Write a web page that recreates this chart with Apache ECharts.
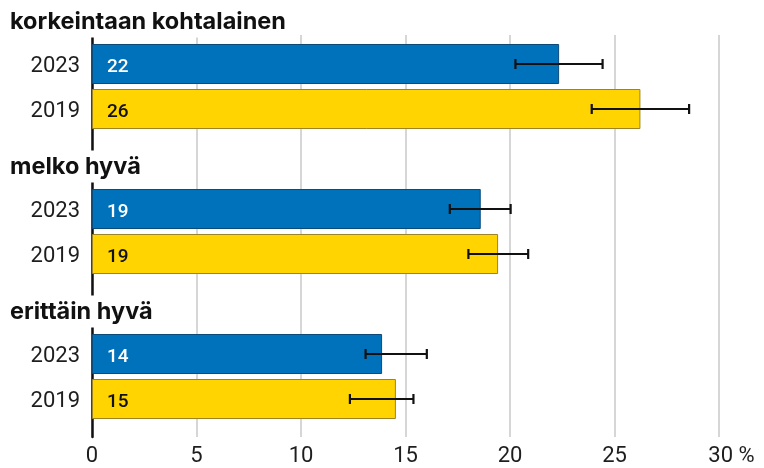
<!DOCTYPE html>
<html>
<head>
<meta charset="utf-8">
<script src="https://cdn.jsdelivr.net/npm/echarts@6/dist/echarts.min.js"></script>
<style>
html,body{margin:0;padding:0;background:#fff;}
#chart{width:764px;height:468px;}
</style>
</head>
<body>
<div id="chart"></div>
<script>
// ---- data ----
const categories = ['korkeintaan kohtalainen', 'melko hyvä', 'erittäin hyvä'];
const years = ['2023', '2019'];
const values2023 = [22.35, 18.6, 13.88];
const values2019 = [26.24, 19.43, 14.54];
const labels2023 = [22, 19, 14];
const labels2019 = [26, 19, 15];
const low2023 = [20.26, 17.12, 13.09];
const high2023 = [24.43, 20.03, 16.02];
const low2019 = [23.91, 18.01, 12.34];
const high2019 = [28.57, 20.87, 15.38];
const xMin = 0, xMax = 30, xStep = 5;
const unitLabel = '%';

// ---- style constants ----
const FONT = 'Roboto';
const HEAD_FONT = 'Inter';
const BAR_W = 40;
const BAR_GAP = 0.125;
const BLUE = '#0071bb', BLUE_BORDER = '#0c4a7a';
const YELLOW = '#ffd400', YELLOW_BORDER = '#9c8426';

const errData = [];
categories.forEach(function (c, i) {
  errData.push([i, low2023[i], high2023[i], -1]);
  errData.push([i, low2019[i], high2019[i], 1]);
});

function yearLabelSeries(stack, year) {
  return {
    type: 'bar', stack: stack, xAxisIndex: 0, yAxisIndex: 0,
    data: categories.map(function () { return 0; }),
    barWidth: BAR_W, barGap: (BAR_GAP * 100) + '%',
    silent: true,
    itemStyle: { color: 'rgba(0,0,0,0)', borderWidth: 0 },
    label: {
      show: true, position: 'left', distance: 12, offset: [0, 2],
      formatter: year,
      fontFamily: FONT, fontSize: 22, color: '#1e1e1e'
    }
  };
}

const chart = echarts.init(document.getElementById('chart'));
chart.setOption({
  backgroundColor: '#fff',
  animation: false,
  grid: [
    { left: 92, right: 45, top: 14, bottom: 19 },
    { left: 92, right: 45, top: 35, bottom: 31 }
  ],
  xAxis: [
    { gridIndex: 0, type: 'value', min: xMin, max: xMax, interval: xStep, show: false },
    {
      gridIndex: 1, type: 'value', min: xMin, max: xMax, interval: xStep,
      axisLine: { show: false }, axisTick: { show: false },
      splitLine: { show: true, lineStyle: { color: '#c8c8c8', width: 1.5 } },
      axisLabel: {
        margin: 8, fontFamily: FONT, fontSize: 22, color: '#1e1e1e',
        formatter: function (v) {
          return v === xMax ? '{m|' + v + ' ' + unitLabel + '}' : String(v);
        },
        rich: { m: { fontFamily: FONT, fontSize: 22, color: '#1e1e1e', padding: [0, 0, 0, 25] } }
      }
    }
  ],
  yAxis: [
    {
      gridIndex: 0, type: 'category', inverse: true, data: categories, z: 10,
      axisLine: { show: false }, axisTick: { show: false }, splitLine: { show: false },
      axisLabel: {
        interval: 0, margin: 82, align: 'left', verticalAlign: 'middle',
        padding: [0, 0, 130, 0],
        formatter: function (v) { return '{h|' + v + '}'; },
        rich: {
          h: {
            fontFamily: HEAD_FONT, fontSize: 23.5, fontWeight: 'bold', color: '#111',
            backgroundColor: '#fff', padding: [4, 4, 4, 0]
          }
        }
      }
    },
    {
      gridIndex: 1, type: 'value', min: 0, max: 1, z: 1,
      axisLine: { show: true, lineStyle: { color: '#111', width: 2.5 } },
      axisTick: { show: false }, axisLabel: { show: false }, splitLine: { show: false }
    }
  ],
  series: [
    yearLabelSeries('a', years[0]),
    {
      type: 'bar', stack: 'a', name: years[0], xAxisIndex: 0, yAxisIndex: 0,
      data: values2023, barWidth: BAR_W, barGap: (BAR_GAP * 100) + '%',
      itemStyle: { color: BLUE, borderColor: BLUE_BORDER, borderWidth: 1 },
      label: {
        show: true, position: 'insideLeft', distance: 15, offset: [0, 3],
        formatter: function (p) { return labels2023[p.dataIndex]; },
        fontFamily: FONT, fontSize: 19, fontWeight: 500, color: '#fff'
      }
    },
    yearLabelSeries('b', years[1]),
    {
      type: 'bar', stack: 'b', name: years[1], xAxisIndex: 0, yAxisIndex: 0,
      data: values2019, barWidth: BAR_W, barGap: (BAR_GAP * 100) + '%',
      itemStyle: { color: YELLOW, borderColor: YELLOW_BORDER, borderWidth: 1 },
      label: {
        show: true, position: 'insideLeft', distance: 15, offset: [0, 3],
        formatter: function (p) { return labels2019[p.dataIndex]; },
        fontFamily: FONT, fontSize: 19, fontWeight: 500, color: '#111'
      }
    },
    {
      type: 'custom', xAxisIndex: 0, yAxisIndex: 0, z: 5, silent: true,
      data: errData,
      encode: { x: [1, 2], y: 0 },
      renderItem: function (params, api) {
        const cat = api.value(0);
        const pLo = api.coord([api.value(1), cat]);
        const pHi = api.coord([api.value(2), cat]);
        const off = api.value(3) * (BAR_W * (1 + BAR_GAP)) / 2;
        const y = pLo[1] + off;
        const cap = 5;
        const st = { stroke: '#111', lineWidth: 2.2 };
        return {
          type: 'group',
          children: [
            { type: 'line', shape: { x1: pLo[0], y1: y, x2: pHi[0], y2: y }, style: st },
            { type: 'line', shape: { x1: pLo[0], y1: y - cap, x2: pLo[0], y2: y + cap }, style: st },
            { type: 'line', shape: { x1: pHi[0], y1: y - cap, x2: pHi[0], y2: y + cap }, style: st }
          ]
        };
      }
    }
  ]
});
</script>
</body>
</html>
